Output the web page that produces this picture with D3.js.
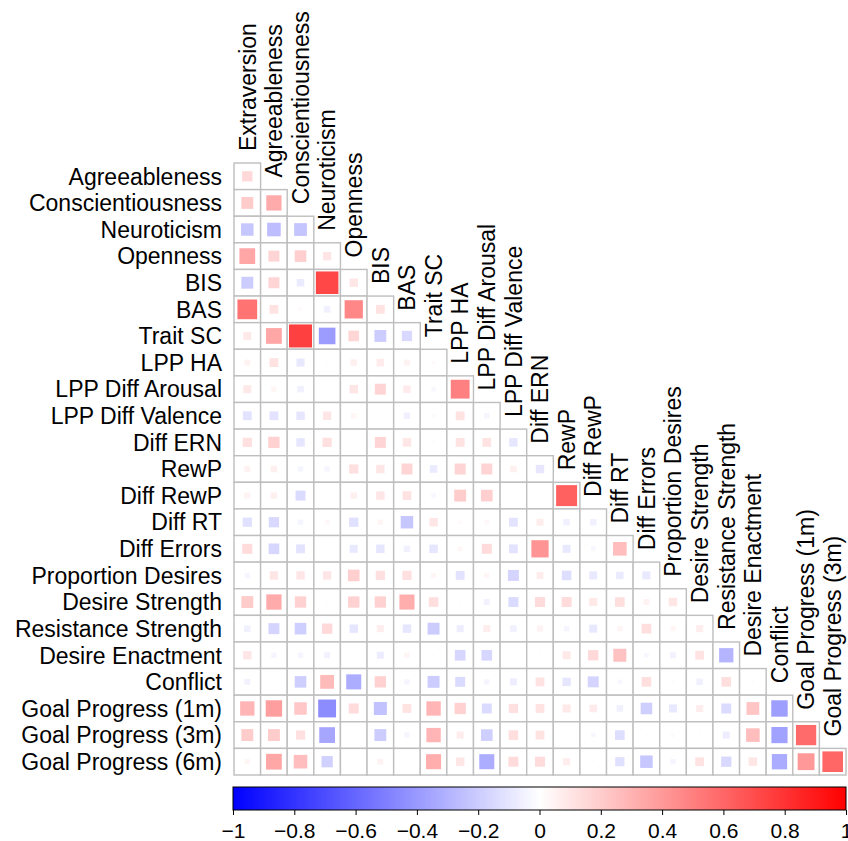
<!DOCTYPE html>
<html>
<head>
<meta charset="utf-8">
<script src="https://cdn.jsdelivr.net/npm/d3@7"></script>
<style>
  body { margin: 0; background: #fff; }
  text { font-family: "Liberation Sans", Arial, Helvetica, sans-serif; fill: #000; }
</style>
</head>
<body>
<svg id="chart" width="848" height="841"></svg>
<script>
// variable names (row i / column j of the correlation matrix)
var vars = ["Extraversion", "Agreeableness", "Conscientiousness", "Neuroticism", "Openness",
    "BIS", "BAS", "Trait SC", "LPP HA", "LPP Diff Arousal", "LPP Diff Valence", "Diff ERN",
    "RewP", "Diff RewP", "Diff RT", "Diff Errors", "Proportion Desires", "Desire Strength",
    "Resistance Strength", "Desire Enactment", "Conflict", "Goal Progress (1m)",
    "Goal Progress (3m)", "Goal Progress (6m)"];

// lower triangle, row k+1 holds correlations with vars[0..k]
var lowerTri = [
    [0.15],
    [0.20, 0.33],
    [-0.22, -0.26, -0.23],
    [0.35, 0.17, 0.19, 0.10],
    [-0.20, 0.17, -0.08, 0.72, 0.10],
    [0.55, 0.11, 0.02, -0.06, 0.47, 0.11],
    [0.09, 0.35, 0.75, -0.39, 0.16, -0.20, -0.15],
    [0.05, 0.11, -0.09, 0.01, 0.06, 0.08, 0.05, 0.02],
    [0.09, 0.04, -0.06, 0.01, 0.10, 0.17, 0.08, -0.03, 0.50],
    [-0.11, -0.11, -0.10, 0.10, 0.04, 0.00, -0.06, -0.02, 0.11, -0.04],
    [0.12, 0.18, -0.10, 0.12, 0.01, 0.17, 0.10, -0.01, 0.11, 0.11, -0.10],
    [0.05, 0.06, -0.04, -0.04, 0.12, 0.10, 0.17, -0.08, 0.17, 0.17, 0.06, -0.10],
    [0.05, 0.06, -0.14, 0.01, 0.06, 0.10, 0.11, -0.03, 0.20, 0.19, 0.01, 0.01, 0.62],
    [-0.12, -0.15, -0.04, 0.03, -0.12, 0.04, -0.22, 0.10, 0.02, 0.03, -0.11, 0.07, -0.06, -0.06],
    [0.14, -0.16, -0.11, 0.01, -0.09, -0.10, -0.06, -0.10, 0.03, 0.14, -0.11, 0.42, -0.09, -0.03, 0.26],
    [-0.04, 0.10, 0.10, 0.10, 0.19, 0.12, 0.12, 0.04, -0.11, 0.04, -0.17, 0.07, -0.13, -0.09, -0.08, -0.09],
    [0.20, 0.33, 0.18, 0.01, 0.18, 0.18, 0.32, 0.13, 0.01, -0.05, -0.14, 0.14, 0.14, 0.09, 0.13, 0.05, 0.10],
    [-0.06, -0.17, -0.19, 0.15, -0.10, 0.07, -0.10, -0.20, -0.07, 0.07, -0.06, 0.05, -0.04, -0.09, 0.04, 0.13, 0.04, 0.07],
    [0.10, -0.04, -0.04, -0.05, 0.01, -0.07, 0.04, 0.01, -0.16, -0.16, 0.00, 0.01, 0.09, 0.15, 0.24, -0.03, -0.05, 0.11, -0.29],
    [-0.05, 0.01, -0.19, 0.27, -0.32, 0.18, -0.04, -0.20, -0.14, -0.04, -0.07, 0.11, -0.10, -0.17, -0.03, 0.13, -0.01, -0.06, 0.13, -0.01],
    [0.29, 0.38, 0.22, -0.45, 0.14, -0.24, 0.11, 0.29, 0.18, -0.14, 0.12, 0.11, 0.09, 0.08, -0.06, -0.19, -0.09, 0.07, -0.14, 0.23, -0.38],
    [0.20, 0.20, 0.12, -0.35, 0.00, -0.20, -0.04, 0.29, 0.07, -0.19, 0.13, 0.11, 0.00, -0.03, -0.13, 0.01, -0.02, 0.01, -0.07, 0.26, -0.37, 0.58],
    [0.04, 0.35, 0.26, -0.18, 0.00, 0.05, 0.00, 0.32, 0.10, -0.32, 0.14, 0.14, 0.07, 0.01, -0.12, -0.22, -0.04, 0.11, -0.15, 0.10, -0.33, 0.40, 0.60]
];

var colorTicks = [-1, -0.8, -0.6, -0.4, -0.2, 0, 0.2, 0.4, 0.6, 0.8, 1];

var svg = d3.select('#chart');
var rowVars = vars.slice(1), colVars = vars.slice(0, -1);

var xScale = d3.scaleBand().domain(colVars).range([234, 846]);
var yScale = d3.scaleBand().domain(rowVars).range([163, 775]);
var bw = xScale.bandwidth();
var colorScale = d3.scaleLinear().domain([-1, 0, 1]).range(["#0000FF", "#FFFFFF", "#FF0000"]);
var sizeScale = d3.scaleSqrt().domain([0, 1]).range([0, bw]);

var cells = [];
lowerTri.forEach(function(row, k) {
    row.forEach(function(v, j) {
        cells.push({row: rowVars[k], col: colVars[j], value: v});
    });
});

// grid cells
svg.append('g').selectAll('rect').data(cells).enter().append('rect')
    .attr('x', function(d) { return xScale(d.col); })
    .attr('y', function(d) { return yScale(d.row); })
    .attr('width', bw).attr('height', bw)
    .attr('fill', 'white').attr('stroke', '#BEBEBE').attr('stroke-width', 1.4);

// squares
svg.append('g').selectAll('rect').data(cells).enter().append('rect')
    .attr('x', function(d) { return xScale(d.col) + (bw - sizeScale(Math.abs(d.value))) / 2; })
    .attr('y', function(d) { return yScale(d.row) + (bw - sizeScale(Math.abs(d.value))) / 2; })
    .attr('width', function(d) { return sizeScale(Math.abs(d.value)); })
    .attr('height', function(d) { return sizeScale(Math.abs(d.value)); })
    .attr('fill', function(d) { return colorScale(d.value); });

// row labels
svg.append('g').selectAll('text').data(rowVars).enter().append('text')
    .attr('x', 222)
    .attr('y', function(d) { return yScale(d) + bw / 2; })
    .attr('dy', '0.36em')
    .attr('text-anchor', 'end')
    .style('font-size', '23px')
    .text(function(d) { return d; });

// column labels, sitting on top of each column's first cell
svg.append('g').selectAll('text').data(colVars).enter().append('text')
    .attr('transform', function(d, i) {
        return 'translate(' + (xScale(d) + bw / 2) + ',' + (yScale(rowVars[i]) - 12) + ') rotate(-90)';
    })
    .attr('dy', '0.36em')
    .attr('text-anchor', 'start')
    .style('font-size', '23px')
    .text(function(d) { return d; });

// colour legend
var legendScale = d3.scaleLinear().domain([-1, 1]).range([233, 846]);
var grad = svg.append('defs').append('linearGradient').attr('id', 'grad');
grad.selectAll('stop').data(colorTicks).enter().append('stop')
    .attr('offset', function(d) { return ((d + 1) / 2 * 100) + '%'; })
    .attr('stop-color', function(d) { return colorScale(d); });

svg.append('rect')
    .attr('x', legendScale(-1)).attr('y', 787)
    .attr('width', legendScale(1) - legendScale(-1)).attr('height', 23)
    .attr('fill', 'url(#grad)').attr('stroke', '#000').attr('stroke-width', 1);

var legendAxis = d3.axisBottom(legendScale).tickValues(colorTicks).tickSize(5).tickPadding(8)
    .tickFormat(d3.format('~g'));
var ax = svg.append('g').attr('transform', 'translate(0, 810)').call(legendAxis);
ax.select('.domain').remove();
ax.selectAll('text').style('font-size', '21px').attr('font-family', null);
</script>
</body>
</html>
